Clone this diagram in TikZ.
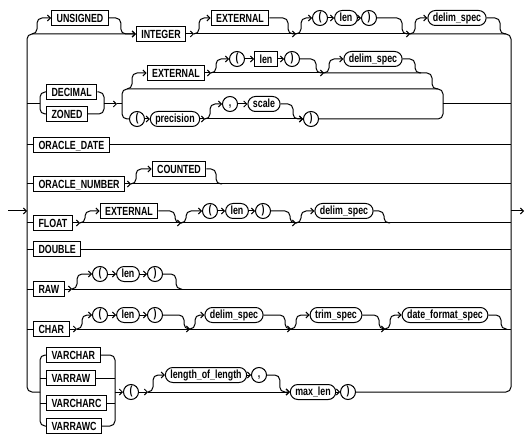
\documentclass[tikz,border=0pt]{standalone}
\usepackage{fontspec}
\setmainfont{Liberation Sans}[FakeStretch=0.75]
\usetikzlibrary{arrows.meta}
\newcommand\railfont{\fontsize{11.8pt}{13pt}\selectfont\bfseries}
\begin{document}
\begin{tikzpicture}[x=1pt, y=-1pt, line width=1pt,
  >={Straight Barb[length=3pt,width=6pt]},
  kw/.style={draw, minimum height=15pt, inner xsep=5pt, inner ysep=0pt, text height=8.4pt, text depth=0pt, font=\railfont},
  var/.style={draw, rounded corners=7.5pt, minimum height=15pt, inner xsep=5pt, inner ysep=0pt, text height=8.4pt, text depth=1.6pt, font=\railfont},
  sym/.style={draw, circle, minimum size=15pt, inner sep=0pt, text height=8.4pt, text depth=2.6pt, font=\railfont},
  rail/.style={rounded corners=5pt}]
\useasboundingbox (0,0) rectangle (532,446);

\coordinate (in) at (8,211);
\coordinate (lrail) at (27,211);
\coordinate (rrail) at (511,211);
\coordinate (out) at (524,211);

\node[kw] (UNSIGNED) at (80,18) {UNSIGNED};
\node[kw] (INTEGER) at (161,34) {INTEGER};
\node[kw] (EXT1) at (240,18) {EXTERNAL};
\node[sym] (LP1) at (320,18) {(};
\node[var] (LEN1) at (346,18) {len};
\node[sym] (RP1) at (369,18) {)};
\node[var] (DELIM1) at (457,18) {delim\_spec};
\coordinate (j1) at (32,34);
\coordinate (f1) at (194,34);
\coordinate (m1) at (296,34);
\coordinate (m2) at (410,34);
\coordinate (m3) at (506,34);

\draw[->] (in) -- (lrail);
\draw[rail, ->] (lrail) |- (INTEGER);
\draw[rail, ->] (j1) -- ++(5,0) |- (UNSIGNED);
\draw[rail, ->] (UNSIGNED) -| ([xshift=-15pt]INTEGER.west) -- (INTEGER);
\draw[->] (INTEGER) -- (f1);
\draw[rail, ->] (f1) -- ++(5,0) |- (EXT1);
\draw[rail, ->] (EXT1) -| ([xshift=-8pt]m1) -- (m1);
\draw (f1) -- (m1);
\draw[rail, ->] (m1) -- ++(5,0) |- (LP1);
\draw[->] (LP1) -- (LEN1);
\draw[->] (LEN1) -- (RP1);
\draw[rail, ->] (RP1) -| ([xshift=-8pt]m2) -- (m2);
\draw (m1) -- (m2);
\draw[rail, ->] (m2) -- ++(5,0) |- (DELIM1);
\draw[rail] (DELIM1) -| ([xshift=-6pt]m3) -- (m3);
\draw[rail] (m2) -| (rrail);
\draw[->] (rrail) -- (out);

\node[kw, anchor=west] (DECIMAL) at (46,92) {DECIMAL};
\node[kw, anchor=west] (ZONED) at (46,114) {ZONED};
\node[kw] (EXT2) at (176,73) {EXTERNAL};
\node[sym] (LP2) at (237,59) {(};
\node[kw] (LEN2) at (266,59) {len};
\node[sym] (RP2) at (292,59) {)};
\node[var] (DELIM2) at (373,59) {delim\_spec};
\node[sym] (LP3) at (137,119) {(};
\node[var] (PREC) at (175,119) {precision};
\node[sym] (COMMA) at (230,104) {,};
\node[var] (SCALE) at (264,104) {scale};
\node[sym] (RP3) at (311,119) {)};
\coordinate (j2) at (40,104);
\coordinate (j3) at (104,104);
\coordinate (j4) at (117,104);
\coordinate (j5) at (122,104);
\coordinate (t2a) at (127,89);
\coordinate (f2) at (211,73);
\coordinate (m4) at (324,73);
\coordinate (m5) at (421,73);
\coordinate (t2m) at (438,89);
\coordinate (j6) at (443,104);
\coordinate (f3) at (205,119);

\draw (j2 -| lrail) -- (j2);
\draw[rail] (j2) |- (DECIMAL);
\draw[rail] (j2) |- (ZONED);
\draw[rail] (DECIMAL) -| (j3);
\draw[rail] (ZONED) -| (j3);
\draw[->] (j3) -- (j4);
\draw (j4) -- (j5);
\draw[rail] (j5) |- (t2a);
\draw[rail] (t2a) -| (j6);
\draw[rail, ->] (t2a) -- ++(5,0) |- (EXT2);
\draw[->] (EXT2) -- (f2);
\draw[rail, ->] (f2) -- ++(5,0) |- (LP2);
\draw[->] (LP2) -- (LEN2);
\draw[->] (LEN2) -- (RP2);
\draw[rail, ->] (RP2) -| ([xshift=-8pt]m4) -- (m4);
\draw (f2) -- (m4);
\draw[rail, ->] (m4) -- ++(5,0) |- (DELIM2);
\draw[rail] (DELIM2) -| ([xshift=-6pt]m5) -- (m5);
\draw[rail] (m4) -| ([xshift=-6pt]t2m) -- (t2m);
\draw[rail] (j5) |- (LP3);
\draw[->] (LP3) -- (PREC);
\draw[->] (PREC) -- (f3);
\draw[rail, ->] (f3) -- ++(5,0) |- (COMMA);
\draw[->] (COMMA) -- (SCALE);
\draw[rail, ->] (SCALE) -| ([xshift=-10pt]RP3.west) -- (RP3);
\draw[->] (f3) -- (RP3);
\draw[rail] (RP3) -| (j6);
\draw (j6) -- (j6 -| rrail);

\node[kw, anchor=west] (ODATE) at (33,145) {ORACLE\_DATE};
\draw (ODATE -| lrail) -- (ODATE);
\draw (ODATE) -- (ODATE -| rrail);

\node[kw, anchor=west] (ONUM) at (33,184) {ORACLE\_NUMBER};
\node[kw] (COUNTED) at (179,169) {COUNTED};
\coordinate (f4) at (131,184);
\coordinate (m6) at (222,184);
\draw (ONUM -| lrail) -- (ONUM);
\draw[->] (ONUM) -- (f4);
\draw[rail, ->] (f4) -- ++(5,0) |- (COUNTED);
\draw[rail] (COUNTED) -| ([xshift=-6pt]m6) -- (m6);
\draw (f4) -- (f4 -| rrail);

\node[kw, anchor=west] (FLOAT) at (33,223) {FLOAT};
\node[kw] (EXT3) at (129,211) {EXTERNAL};
\node[sym] (LP5) at (210,211) {(};
\node[var] (LEN5) at (237,211) {len};
\node[sym] (RP5) at (263,211) {)};
\node[var] (DELIM5) at (344,211) {delim\_spec};
\coordinate (f5) at (80,223);
\coordinate (m7) at (181,223);
\coordinate (m8) at (296,223);
\coordinate (m9) at (390,223);
\draw (FLOAT -| lrail) -- (FLOAT);
\draw[->] (FLOAT) -- (f5);
\draw[rail, ->] (f5) -- ++(5,0) |- (EXT3);
\draw[rail, ->] (EXT3) -| ([xshift=-6pt]m7) -- (m7);
\draw[rail, ->] (m7) -- ++(5,0) |- (LP5);
\draw[->] (LP5) -- (LEN5);
\draw[->] (LEN5) -- (RP5);
\draw[rail, ->] (RP5) -| ([xshift=-6pt]m8) -- (m8);
\draw[rail, ->] (m8) -- ++(5,0) |- (DELIM5);
\draw[rail] (DELIM5) -| ([xshift=-6pt]m9) -- (m9);
\draw (f5) -- (f5 -| rrail);

\node[kw, anchor=west] (DOUBLE) at (33,249) {DOUBLE};
\draw (DOUBLE -| lrail) -- (DOUBLE);
\draw (DOUBLE) -- (DOUBLE -| rrail);

\node[kw, anchor=west] (RAW) at (33,289) {RAW};
\node[sym] (LP7) at (100,274) {(};
\node[var] (LEN7) at (128,274) {len};
\node[sym] (RP7) at (155,274) {)};
\coordinate (f7) at (72,289);
\coordinate (m10) at (182,289);
\draw (RAW -| lrail) -- (RAW);
\draw[->] (RAW) -- (f7);
\draw[rail, ->] (f7) -- ++(5,0) |- (LP7);
\draw[->] (LP7) -- (LEN7);
\draw[->] (LEN7) -- (RP7);
\draw[rail] (RP7) -| ([xshift=-6pt]m10) -- (m10);
\draw (f7) -- (f7 -| rrail);

\node[kw, anchor=west] (CHAR) at (33,329) {CHAR};
\node[sym] (LP8) at (100,315) {(};
\node[var] (LEN8) at (128,315) {len};
\node[sym] (RP8) at (155,315) {)};
\node[var] (DELIM8) at (234,315) {delim\_spec};
\node[var] (TRIM8) at (336,315) {trim\_spec};
\node[var] (DATEF) at (445,315) {date\_format\_spec};
\coordinate (f8) at (77,329);
\coordinate (m11) at (190,329);
\coordinate (m12) at (291,329);
\coordinate (m13) at (385,329);
\coordinate (m14) at (507,329);
\draw (CHAR -| lrail) -- (CHAR);
\draw[->] (CHAR) -- (f8);
\draw[rail, ->] (f8) -- ++(5,0) |- (LP8);
\draw[->] (LP8) -- (LEN8);
\draw[->] (LEN8) -- (RP8);
\draw[rail, ->] (RP8) -| ([xshift=-6pt]m11) -- (m11);
\draw[rail, ->] (m11) -- ++(5,0) |- (DELIM8);
\draw[rail, ->] (DELIM8) -| ([xshift=-6pt]m12) -- (m12);
\draw[rail, ->] (m12) -- ++(5,0) |- (TRIM8);
\draw[rail, ->] (TRIM8) -| ([xshift=-6pt]m13) -- (m13);
\draw[rail, ->] (m13) -- ++(5,0) |- (DATEF);
\draw[rail] (DATEF) -| ([xshift=-6pt]m14) -- (m14);
\draw (f8) -- (f8 -| rrail);

\node[kw, anchor=west] (VARCHAR) at (46,355) {VARCHAR};
\node[kw, anchor=west] (VARRAW) at (46,378) {VARRAW};
\node[kw, anchor=west] (VARCHARC) at (46,403) {VARCHARC};
\node[kw, anchor=west] (VARRAWC) at (46,426) {VARRAWC};
\node[sym] (LP9) at (131,392) {(};
\node[var] (LOL) at (206,375) {length\_of\_length};
\node[sym] (COMMA9) at (259,375) {,};
\node[var] (MAXLEN) at (313,392) {max\_len};
\node[sym] (RP9) at (348,392) {)};
\coordinate (j9) at (40,392);
\coordinate (j10) at (115,392);
\coordinate (f9) at (148,392);
\draw[rail] (lrail) |- (j9);
\draw[rail] (j9) |- (VARCHAR);
\draw[rail] (j9) |- (VARRAWC);
\draw (j9 |- VARRAW) -- (VARRAW);
\draw (j9 |- VARCHARC) -- (VARCHARC);
\draw[rail] (VARCHAR) -| (j10);
\draw[rail] (VARRAWC) -| (j10);
\draw (VARRAW) -- (VARRAW -| j10);
\draw (VARCHARC) -- (VARCHARC -| j10);
\draw[->] (j10) -- (LP9);
\draw[->] (LP9) -- (f9);
\draw[rail, ->] (f9) -- ++(5,0) |- (LOL);
\draw[->] (LOL) -- (COMMA9);
\draw[rail, ->] (COMMA9) -| ([xshift=-10pt]MAXLEN.west) -- (MAXLEN);
\draw[->] (f9) -- (MAXLEN);
\draw[->] (MAXLEN) -- (RP9);
\draw[rail] (RP9) -| (rrail);
\end{tikzpicture}
\end{document}
